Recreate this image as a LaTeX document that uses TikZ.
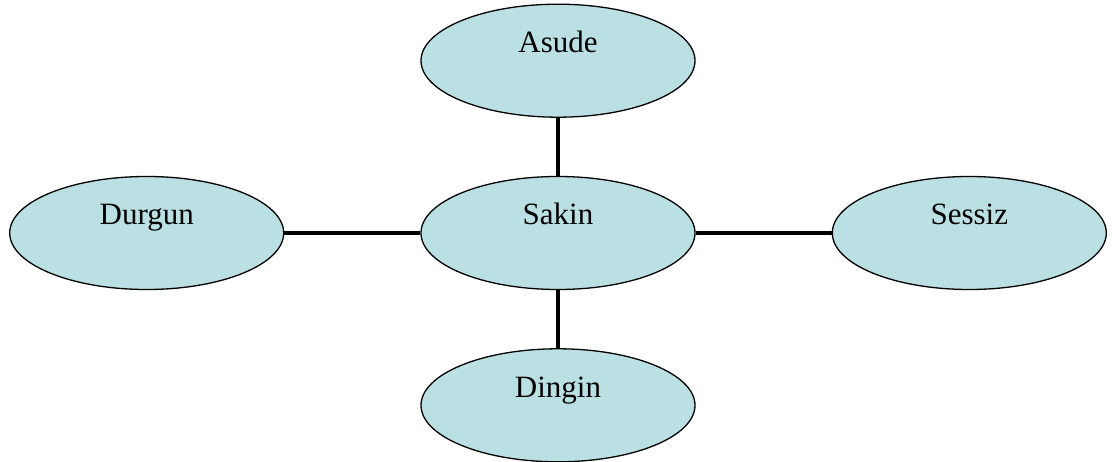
\documentclass[tikz,border=0pt]{standalone}
\usepackage{fontspec}
\setmainfont{Liberation Serif}
\usetikzlibrary{positioning,shapes.geometric}
\definecolor{wordfill}{HTML}{BBE0E3}

\begin{document}
\begin{tikzpicture}[node distance=58pt and 136pt,
  word/.style={ellipse,draw,line width=1.3pt,fill=wordfill,minimum width=274pt,minimum height=113pt,
    inner sep=0pt,text height=22pt,text depth=38pt,font=\fontsize{31}{36}\selectfont},
  link/.style={line width=4pt}]
\useasboundingbox (0,0) rectangle (1114pt,-462pt);
\node[word] (sakin) at (558pt,-233pt) {Sakin};
\node[word,above=of sakin] (asude) {Asude};
\node[word,below=of sakin] (dingin) {Dingin};
\node[word,left=of sakin] (durgun) {Durgun};
\node[word,right=of sakin] (sessiz) {Sessiz};
\draw[link] (sakin)--(asude);
\draw[link] (sakin)--(dingin);
\draw[link] (sakin)--(durgun);
\draw[link] (sakin)--(sessiz);
\end{tikzpicture}
\end{document}
